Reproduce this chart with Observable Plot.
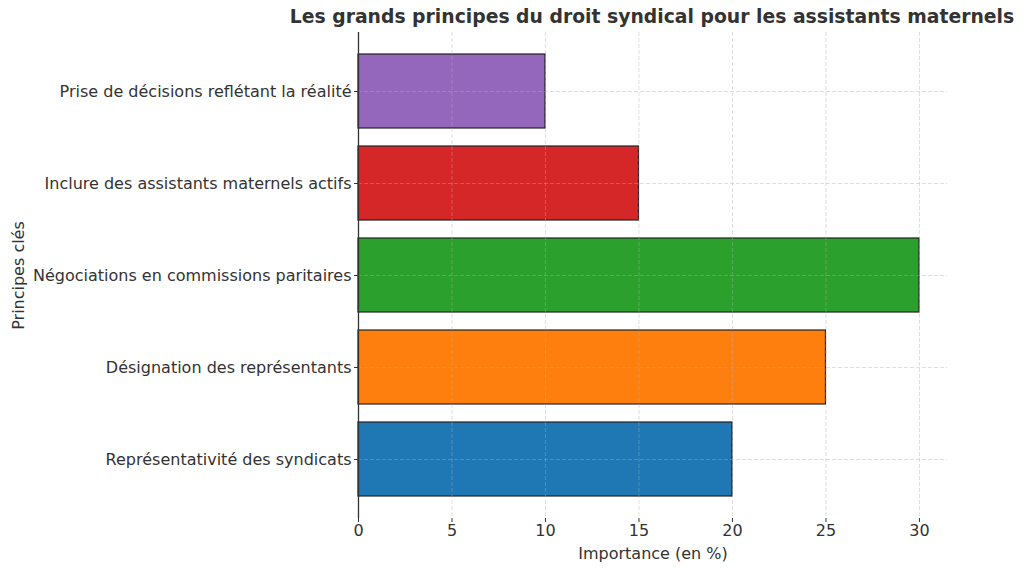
<!DOCTYPE html>
<html>
<head>
<meta charset="utf-8">
<script src="https://cdn.jsdelivr.net/npm/d3@7"></script>
<script src="https://cdn.jsdelivr.net/npm/@observablehq/plot@0.6"></script>
<style>
  html, body { margin: 0; padding: 0; background: #fff; }
  #wrap { position: relative; width: 1024px; height: 571px; font-family: "DejaVu Sans", sans-serif; }
  #title { position: absolute; left: 652px; top: 5px; transform: translateX(-50%); white-space: nowrap;
           font-weight: bold; font-size: 18.8px; color: #333; line-height: 24px; }
  #chart { position: absolute; left: 0; top: 32px; }
</style>
</head>
<body>
<div id="wrap">
  <div id="title">Les grands principes du droit syndical pour les assistants maternels</div>
  <div id="chart"></div>
</div>
<script>
const categories = [
  "Prise de décisions reflétant la réalité",
  "Inclure des assistants maternels actifs",
  "Négociations en commissions paritaires",
  "Désignation des représentants",
  "Représentativité des syndicats"
];
const values = [10, 15, 30, 25, 20];
const colors = ["#9467bd", "#d62728", "#2ca02c", "#ff7f0e", "#1f77b4"];
const xTicks = [0, 5, 10, 15, 20, 25, 30];

const data = categories.map((c, i) => ({category: c, value: values[i], color: colors[i]}));

const plot = Plot.plot({
  width: 1024,
  height: 539,
  marginTop: 0,
  marginLeft: 358,
  marginRight: 77,
  marginBottom: 53,
  style: {fontFamily: "DejaVu Sans, sans-serif", fontSize: "16px", color: "#333", background: "#fff"},
  x: {domain: [0, 31.5], ticks: xTicks},
  y: {domain: categories, paddingInner: 0.2, paddingOuter: 0.233},
  marks: [
    Plot.barX(data, {y: "category", x: "value", fill: "color", stroke: "#222", strokeWidth: 1.2}),
    Plot.gridX(xTicks, {stroke: "#b0b0b0", strokeOpacity: 0.5, strokeDasharray: "4,2", strokeWidth: 0.8}),
    Plot.gridY(categories, {stroke: "#b0b0b0", strokeOpacity: 0.5, strokeDasharray: "4,2", strokeWidth: 0.8}),
    Plot.axisX(xTicks, {tickSize: 4, tickPadding: 2, fontSize: 16, stroke: "#333", fill: "#333",
      label: "Importance (en %)", labelAnchor: "center", labelArrow: "none", labelOffset: 40}),
    Plot.axisY({tickSize: 4, tickPadding: 3, fontSize: 16, stroke: "#333", fill: "#333",
      label: "Principes clés", labelAnchor: "center", labelArrow: "none", labelOffset: 346}),
    Plot.ruleX([0], {stroke: "#333", strokeWidth: 1.3}),
    Plot.ruleY([0], {stroke: "#333", strokeWidth: 1.3})
  ]
});
document.getElementById("chart").appendChild(plot);
</script>
</body>
</html>
